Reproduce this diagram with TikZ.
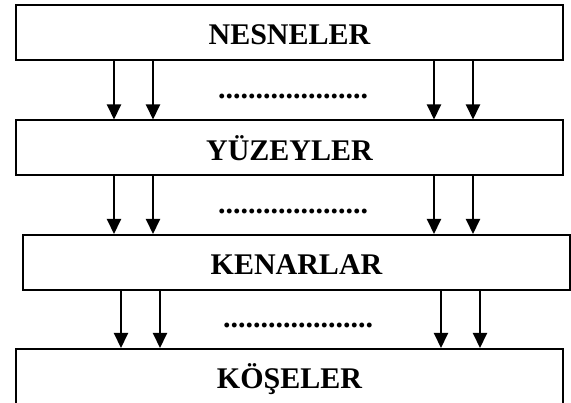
\documentclass[tikz,border=0pt]{standalone}
\usepackage{fontspec}
\setmainfont{Liberation Serif}
\usetikzlibrary{arrows.meta}
\begin{document}
\begin{tikzpicture}[x=1pt,y=-1pt,
  level/.style={draw=black, line width=2pt, rectangle, inner sep=0pt,
    minimum height=55pt, text height=25pt, text depth=0pt,
    font=\fontsize{30}{36}\selectfont\bfseries},
  flow/.style={line width=2pt, -{Triangle[length=15pt,width=14pt]}},
  gap/.style={anchor=base, inner sep=0pt, font=\fontsize{30}{36}\selectfont\bfseries}]
\useasboundingbox (0,0) rectangle (571,403);

% the four levels
\node[level, minimum width=547pt] (nes) at (289.5,32.5) {NESNELER};
\node[level, minimum width=547pt] (yuz) at (289.5,148) {YÜZEYLER};
\node[level, minimum width=547pt] (ken) at (296.5,262.5) {KENARLAR};
\node[level, minimum width=547pt] (kos) at (289.5,376.5) {KÖŞELER};

% x positions of the arrows
\coordinate (a1) at (114,0);
\coordinate (a2) at (153,0);
\coordinate (a3) at (434,0);
\coordinate (a4) at (473,0);
\coordinate (b1) at (121,0);
\coordinate (b2) at (160,0);
\coordinate (b3) at (441,0);
\coordinate (b4) at (480,0);

\foreach \c in {a1,a2,a3,a4} {
  \draw[flow] (nes.south -| \c) -- (yuz.north -| \c);
  \draw[flow] (yuz.south -| \c) -- (ken.north -| \c);
}
\foreach \c in {b1,b2,b3,b4} {
  \draw[flow] (ken.south -| \c) -- (kos.north -| \c);
}

% ellipses between the arrow pairs
\node[gap] (d1) at (293,98.5) {....................};
\node[gap] (d2) at (293,214) {....................};
\node[gap] (d3) at (298,328) {....................};
\end{tikzpicture}
\end{document}
